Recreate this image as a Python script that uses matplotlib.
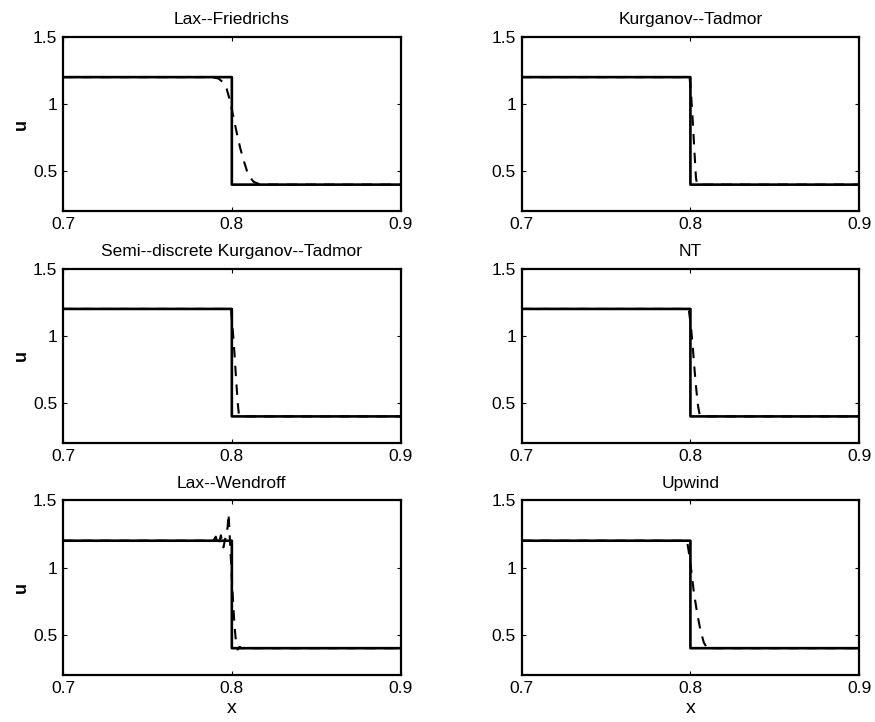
import matplotlib.pyplot as plt
import numpy as np

plt.rcParams['font.family'] = ['Liberation Sans', 'DejaVu Sans']

# exact solution: Riemann step at x = 0.8
x_exact = [0.7, 0.8, 0.8, 0.9]
u_exact = [1.2, 1.2, 0.4, 0.4]

titles = ['Lax--Friedrichs', 'Kurganov--Tadmor',
          'Semi--discrete Kurganov--Tadmor', 'NT',
          'Lax--Wendroff', 'Upwind']

# numerical solutions near the shock
x_lf = [0.7, 0.788, 0.792, 0.795, 0.797, 0.799, 0.801, 0.803, 0.805, 0.807, 0.809, 0.811, 0.813, 0.816, 0.82, 0.9]
u_lf = [1.2, 1.2, 1.19, 1.16, 1.11, 1.02, 0.90, 0.78, 0.67, 0.58, 0.50, 0.45, 0.42, 0.405, 0.4, 0.4]

x_kt = [0.7, 0.7995, 0.8005, 0.8015, 0.8025, 0.8033, 0.804, 0.9]
u_kt = [1.2, 1.2, 1.05, 0.85, 0.62, 0.45, 0.4, 0.4]

x_sd = [0.7, 0.7995, 0.8005, 0.8015, 0.8025, 0.8035, 0.8042, 0.806, 0.9]
u_sd = [1.2, 1.2, 1.05, 0.88, 0.68, 0.50, 0.41, 0.4, 0.4]

x_nt = [0.7, 0.799, 0.8003, 0.8015, 0.8025, 0.8035, 0.8045, 0.8055, 0.807, 0.9]
u_nt = [1.2, 1.2, 1.07, 0.90, 0.74, 0.60, 0.48, 0.41, 0.4, 0.4]

x_lw = [0.7, 0.789, 0.7905, 0.792, 0.7935, 0.795, 0.7965, 0.7975, 0.798, 0.7985, 0.7995, 0.8005, 0.8015, 0.8025, 0.8035, 0.8045, 0.806, 0.9]
u_lw = [1.2, 1.2, 1.23, 1.16, 1.24, 1.15, 1.24, 1.30, 1.40, 1.30, 1.05, 0.80, 0.58, 0.44, 0.39, 0.41, 0.4, 0.4]

x_up = [0.7, 0.798, 0.799, 0.8005, 0.802, 0.804, 0.806, 0.808, 0.81, 0.9]
u_up = [1.2, 1.2, 1.12, 0.98, 0.82, 0.66, 0.53, 0.44, 0.4, 0.4]

x_num = [x_lf, x_kt, x_sd, x_nt, x_lw, x_up]
u_num = [u_lf, u_kt, u_sd, u_nt, u_lw, u_up]

fig, axes = plt.subplots(3, 2, figsize=(8.75, 7.22), dpi=100)
plt.subplots_adjust(left=0.072, right=0.982, top=0.949, bottom=0.065,
                    wspace=0.358, hspace=0.327)

for i, ax in enumerate(axes.flat):
    # dashed numerical curve under the exact solution (no snapping so they line up)
    ax.plot(x_num[i], u_num[i], 'k--', linewidth=1.5, dashes=(5, 4),
            zorder=2, snap=False)
    ax.plot(x_exact, u_exact, 'k-', linewidth=1.9, zorder=3, snap=False)
    ax.set_xlim(0.7, 0.9)
    ax.set_ylim(0.2, 1.5)
    ax.set_xticks([0.7, 0.8, 0.9])
    ax.set_xticklabels(['0.7', '0.8', '0.9'])
    ax.set_yticks([0.5, 1, 1.5])
    ax.set_yticklabels(['0.5', '1', '1.5'])
    ax.tick_params(direction='in', top=True, right=True, length=3,
                   labelsize=12.5, pad=4)
    for s in ax.spines.values():
        s.set_linewidth(1.6)
        s.set_zorder(4)
    ax.set_title(titles[i], fontsize=12.5, pad=9)
    if i % 2 == 0:
        ax.set_ylabel('u', fontsize=13, fontweight='bold', labelpad=2)
    if i >= 4:
        ax.set_xlabel('x', fontsize=14, labelpad=3)

plt.savefig('out.png', dpi=100)
